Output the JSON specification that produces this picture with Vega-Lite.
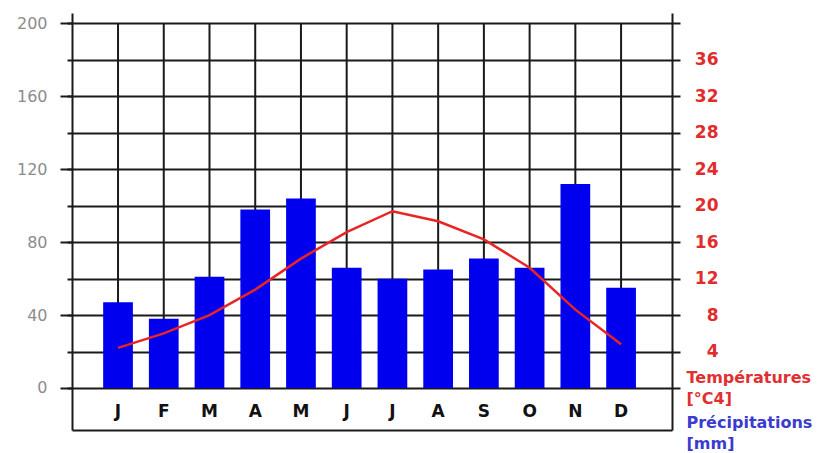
{
  "$schema": "https://vega.github.io/schema/vega-lite/v6.json",
  "width": 600,
  "height": 417,
  "autosize": {"type": "none"},
  "padding": {"left": 72, "top": 13, "right": 155, "bottom": 23},
  "background": "white",
  "config": {
    "view": {"stroke": null},
    "axis": {"labelFont": "DejaVu Sans", "titleFont": "DejaVu Sans"}
  },
  "data": {
    "values": [
      {"mois": "janv", "precip": 47, "temp": 4.4},
      {"mois": "févr", "precip": 38, "temp": 6.0},
      {"mois": "mars", "precip": 61, "temp": 8.0},
      {"mois": "avr", "precip": 98, "temp": 10.8},
      {"mois": "mai", "precip": 104, "temp": 14.2},
      {"mois": "juin", "precip": 66, "temp": 17.1},
      {"mois": "juil", "precip": 60, "temp": 19.4},
      {"mois": "août", "precip": 65, "temp": 18.3},
      {"mois": "sept", "precip": 71, "temp": 16.3},
      {"mois": "oct", "precip": 66, "temp": 13.2},
      {"mois": "nov", "precip": 112, "temp": 8.6},
      {"mois": "déc", "precip": 55, "temp": 4.8}
    ]
  },
  "encoding": {
    "x": {
      "field": "mois",
      "type": "nominal",
      "sort": null,
      "scale": {"paddingInner": 0.35, "paddingOuter": 0.735, "align": 0.4636},
      "axis": {
        "orient": "bottom",
        "title": null,
        "ticks": false,
        "tickSize": 0,
        "grid": false,
        "domain": true,
        "domainColor": "#1a1a1a",
        "domainWidth": 2,
        "labelAngle": 0,
        "labelPadding": -27,
        "labelBaseline": "top",
        "labelFontSize": 17,
        "labelFontWeight": "bold",
        "labelColor": "#111",
        "labelExpr": "upper(slice(datum.label, 0, 1))"
      }
    }
  },
  "layer": [
    {
      "mark": {"type": "rule", "color": "#1a1a1a", "strokeWidth": 2},
      "encoding": {
        "y": {
          "datum": 0,
          "type": "quantitative",
          "scale": {"domain": [-23.05, 205.76], "nice": false, "zero": false},
          "axis": {
            "orient": "left",
            "values": [0, 20, 40, 60, 80, 100, 120, 140, 160, 180, 200],
            "grid": true,
            "gridColor": "#1a1a1a",
            "gridWidth": 2,
            "gridOpacity": 1,
            "domain": false,
            "labels": false,
            "tickSize": 5,
            "tickColor": "#1a1a1a",
            "tickWidth": 2,
            "title": ["Précipitations", "[mm]"],
            "titleColor": "#3b3bd0",
            "titleFontSize": 16,
            "titleFontWeight": "bold",
            "titleAngle": 0,
            "titleAlign": "left",
            "titleBaseline": "top",
            "titleLineHeight": 21,
            "titleX": 614,
            "titleY": 401
          }
        },
        "y2": {"datum": 200}
      }
    },
    {
      "mark": {"type": "bar", "color": "#0000ee"},
      "encoding": {
        "y": {
          "field": "precip",
          "type": "quantitative",
          "scale": {"domain": [-23.05, 205.76], "nice": false, "zero": false},
          "axis": {
            "orient": "left",
            "values": [0, 40, 80, 120, 160, 200],
            "grid": false,
            "domain": true,
            "domainColor": "#1a1a1a",
            "domainWidth": 2,
            "tickSize": 12,
            "tickColor": "#1a1a1a",
            "tickWidth": 2,
            "labelPadding": 13,
            "labelFontSize": 16,
            "labelColor": "#8c8c8c",
            "title": null
          }
        },
        "y2": {"datum": 0}
      }
    },
    {
      "mark": {"type": "line", "color": "#e82424", "strokeWidth": 2.5},
      "encoding": {
        "y": {
          "field": "temp",
          "type": "quantitative",
          "scale": {"domain": [-4.61, 41.152], "nice": false, "zero": false},
          "axis": {
            "orient": "right",
            "values": [0, 4, 8, 12, 16, 20, 24, 28, 32, 36, 40],
            "labelExpr": "datum.value == 0 || datum.value == 40 ? '' : datum.label",
            "grid": false,
            "domain": true,
            "domainColor": "#1a1a1a",
            "domainWidth": 2,
            "tickSize": 8,
            "tickColor": "#1a1a1a",
            "tickWidth": 2,
            "labelAlign": "right",
            "labelPadding": 38,
            "labelFontSize": 17,
            "labelFontWeight": "bold",
            "labelColor": "#e02c2c",
            "title": ["Températures", "[°C4]"],
            "titleColor": "#e03030",
            "titleFontSize": 16,
            "titleFontWeight": "bold",
            "titleAngle": 0,
            "titleAlign": "left",
            "titleBaseline": "top",
            "titleLineHeight": 21,
            "titleX": 14,
            "titleY": 356
          }
        }
      }
    }
  ],
  "resolve": {"scale": {"y": "independent"}, "axis": {"y": "independent"}}
}
